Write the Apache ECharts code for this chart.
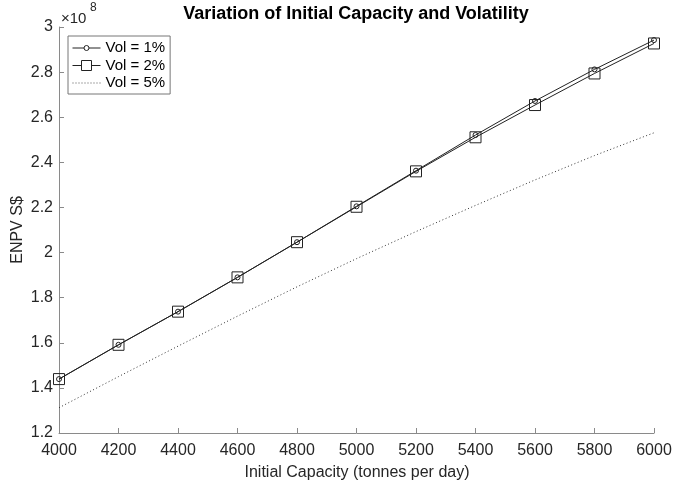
<!DOCTYPE html>
<html>
<head>
<meta charset="utf-8">
<script src="https://cdn.jsdelivr.net/npm/echarts@6/dist/echarts.min.js"></script>
<style>html,body{margin:0;padding:0;background:#fff;}#c{width:675px;height:484px;}</style>
</head>
<body>
<div id="c"></div>
<script>
// Data (ENPV in S$)
var capacities = [4000, 4200, 4400, 4600, 4800, 5000, 5200, 5400, 5600, 5800, 6000];
var vol1 = [1.439e8, 1.591e8, 1.738e8, 1.890e8, 2.046e8, 2.205e8, 2.363e8, 2.521e8, 2.672e8, 2.812e8, 2.942e8];
var vol2 = [1.439e8, 1.591e8, 1.738e8, 1.890e8, 2.046e8, 2.203e8, 2.360e8, 2.511e8, 2.654e8, 2.794e8, 2.927e8];
var vol5 = [1.312e8, 1.450e8, 1.585e8, 1.718e8, 1.848e8, 1.973e8, 2.093e8, 2.209e8, 2.322e8, 2.430e8, 2.531e8];
var seriesNames = ['Vol = 1%', 'Vol = 2%', 'Vol = 5%'];
var titleText = 'Variation of Initial Capacity and Volatility';
var xName = 'Initial Capacity (tonnes per day)';
var yName = 'ENPV S$';

function pairs(xs, ys) { return xs.map(function (x, i) { return [x, ys[i]]; }); }

// legend icons
var iconCircle = 'path://M0,6L11.5,6M16.5,6L28,6M11.5,6a2.5,2.5 0 1,0 5,0a2.5,2.5 0 1,0 -5,0';
var iconSquare = 'path://M0,6L9,6M19,6L28,6M9,1L19,1L19,11L9,11Z';
var dots = '';
for (var k = 0; k < 10; k++) { dots += 'M' + (k * 3) + ',5.5h1v1h-1z'; }
var iconDotted = 'path://' + dots;

var FONT = 'Liberation Sans, Arial, Helvetica, sans-serif';
var chart = echarts.init(document.getElementById('c'));
chart.setOption({
  animation: false,
  backgroundColor: '#fff',
  textStyle: { fontFamily: FONT },
  grid: { left: 59, right: 21, top: 27, bottom: 51, containLabel: false },
  graphic: [
    { type: 'text', x: 356, y: 5,
      style: { text: titleText, font: 'bold 18px ' + FONT, fill: '#000', textAlign: 'center', textVerticalAlign: 'top' } },
    { type: 'text', x: 61, y: 11,
      style: { text: '\u00d710', font: '15px ' + FONT, fill: '#262626', textVerticalAlign: 'top' } },
    { type: 'text', x: 90, y: 2,
      style: { text: '8', font: '12px ' + FONT, fill: '#262626', textVerticalAlign: 'top' } },
    { type: 'text', x: 18, y: 230, rotation: Math.PI / 2,
      style: { text: yName, font: '16px ' + FONT, fill: '#262626', textAlign: 'center', textVerticalAlign: 'middle' } },
    { type: 'text', x: 357, y: 473,
      style: { text: xName, font: '16px ' + FONT, fill: '#262626', textAlign: 'center', textVerticalAlign: 'middle' } }
  ],
  legend: {
    orient: 'vertical', left: 68, top: 36,
    padding: [4, 5, 3, 4], itemGap: 1.5,
    itemWidth: 28, itemHeight: 12,
    backgroundColor: '#fff', borderColor: '#777', borderWidth: 1,
    textStyle: { fontSize: 15, color: '#000', fontFamily: FONT, lineHeight: 16 },
    itemStyle: { borderWidth: 1 },
    data: [
      { name: seriesNames[0], icon: iconCircle },
      { name: seriesNames[1], icon: iconSquare },
      { name: seriesNames[2], icon: iconDotted }
    ]
  },
  xAxis: {
    type: 'value', min: 4000, max: 6000, interval: 200,
    axisLine: { lineStyle: { color: '#8a8a8a', width: 1 } },
    axisTick: { inside: true, length: 5, lineStyle: { color: '#8a8a8a' } },
    axisLabel: { fontSize: 16, color: '#262626', margin: 10, fontFamily: FONT,
      formatter: function (v) { return String(v); } },
    splitLine: { show: false }
  },
  yAxis: {
    type: 'value', min: 1.2e8, max: 3e8, interval: 0.2e8,
    axisLine: { show: true, lineStyle: { color: '#8a8a8a', width: 1 } },
    axisTick: { show: true, inside: true, length: 5, lineStyle: { color: '#8a8a8a' } },
    axisLabel: { fontSize: 16, color: '#262626', margin: 6, fontFamily: FONT,
      formatter: function (v) { return String(+(v / 1e8).toFixed(1)); } },
    splitLine: { show: false }
  },
  series: [
    { name: seriesNames[0], type: 'line', data: pairs(capacities, vol1),
      symbol: 'circle', symbolSize: 5,
      itemStyle: { color: 'rgba(255,255,255,0)', borderColor: '#222', borderWidth: 1 },
      lineStyle: { color: '#222', width: 1 } },
    { name: seriesNames[1], type: 'line', data: pairs(capacities, vol2),
      symbol: 'rect', symbolSize: 11,
      itemStyle: { color: 'rgba(255,255,255,0)', borderColor: '#222', borderWidth: 1 },
      lineStyle: { color: '#222', width: 1 } },
    { name: seriesNames[2], type: 'line', data: pairs(capacities, vol5),
      symbol: 'none', showSymbol: false,
      itemStyle: { color: '#555' },
      lineStyle: { color: '#333', width: 1, type: [1, 2.5] } }
  ]
});
</script>
</body>
</html>
